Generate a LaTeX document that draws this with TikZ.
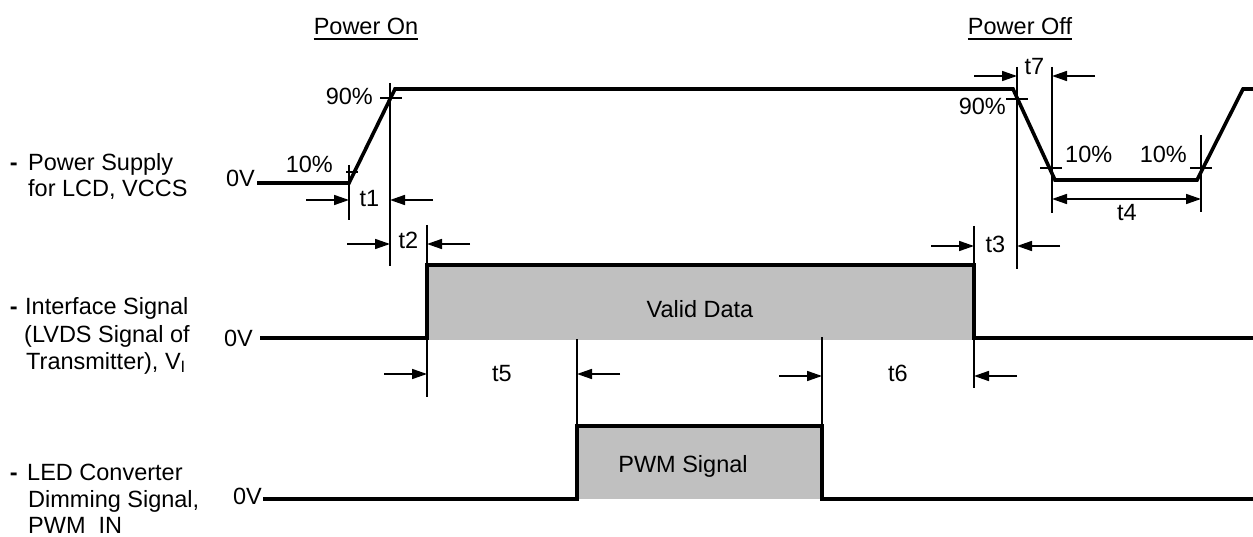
\documentclass[tikz,border=0pt]{standalone}
\usepackage{fontspec}
\setmainfont{Liberation Sans}
\usepackage{tikz}
\usetikzlibrary{arrows.meta}
\definecolor{DataGray}{RGB}{192,192,192}

\begin{document}
\begin{tikzpicture}[x=1pt,y=-1pt,
    sig/.style={line width=3.6pt,line join=miter},
    dim/.style={line width=1.2pt},
    arr/.style={line width=1.6pt,-{Triangle[length=15pt,width=10pt]}},
    lbl/.style={font=\fontsize{23.5}{26}\selectfont,inner sep=0pt}]
  \useasboundingbox (0,0) rectangle (1253,537);

  % headings
  \node[lbl,anchor=base] (pon) at (366,35) {Power On};
  \node[lbl,anchor=base] (poff) at (1020,35) {Power Off};
  \foreach \n in {pon,poff}
    \draw[line width=1.4pt] ([yshift=-4pt]\n.base west) -- ([yshift=-4pt]\n.base east);

  % signal names
  \foreach \x/\y/\t in {28/171/Power Supply, 28/197/{for LCD, VCCS},
      25/315/Interface Signal, 24/342/{(LVDS Signal of}, 26/369/{Transmitter), V\textsubscript{I}},
      27/480/LED Converter, 28/507/{Dimming Signal,}, 28/533/PWM\ \ IN}
    \node[lbl,anchor=base west] at (\x,\y) {\t};
  \foreach \y in {171,315,480}
    \node[lbl,anchor=base east] at (18,\y) {\textbf{-}};
  \foreach \x/\y in {255/187,253/346,262/504}
    \node[lbl,anchor=base east] at (\x,\y) {0V};

  % data areas
  \fill[DataGray] (427,265) rectangle (974,340);
  \fill[DataGray] (577,426) rectangle (822,499);
  \node[lbl,anchor=base] (valid) at (700,317) {Valid Data};
  \node[lbl,anchor=base] (pwm) at (683,472) {PWM Signal};

  % extension lines
  \foreach \x/\a/\b in {349/165/220,390/83/266,427/225/397,577/339/426,822/337/426,
      974/226/388,1017/67/269,1052/67/213,1201/135/212}
    \draw[dim] (\x,\a) -- (\x,\b);

  % 10% / 90% marks
  \foreach \x/\y/\w in {391/98/11,352/172/6,1017/99/11,1051/168/11,1201/168/11}
    \draw[dim] (\x-\w,\y) -- (\x+\w,\y);
  \node[lbl,anchor=base east] at (373,105) {90\%};
  \node[lbl,anchor=base east] at (333,173) {10\%};
  \node[lbl,anchor=base east] at (1006,115) {90\%};
  \node[lbl,anchor=base west] at (1065,163) {10\%};
  \node[lbl,anchor=base east] at (1187,163) {10\%};

  % signals
  \draw[sig] (257,183) -- (349,183) -- (395,89) -- (1013,89) -- (1055,180)
    -- (1197,180) -- (1243,89) -- (1253,89);
  \draw[sig] (260,338) -- (427,338) -- (427,265) -- (974,265) -- (974,338) -- (1253,338);
  \draw[sig] (263,499) -- (577,499) -- (577,426) -- (822,426) -- (822,499) -- (1253,499);

  % timings
  \foreach \xa/\xb/\y/\ly/\t in {349/390/200/207/t1,390/427/244/249/t2,974/1017/246/253/t3,
      427/577/374/381/t5,822/974/376/381/t6,1017/1052/76/75/t7} {
    \draw[arr] (\xa-43,\y) -- (\xa,\y);
    \draw[arr] (\xb+43,\y) -- (\xb,\y);
    \node[lbl,anchor=base] at ({(\xa+\xb)/2},\ly) {\t};
  }
  \draw[arr,{Triangle[length=15pt,width=10pt]}-{Triangle[length=15pt,width=10pt]}]
    (1052,199) -- (1201,199);
  \node[lbl,anchor=base] at (1127,221) {t4};
\end{tikzpicture}
\end{document}
